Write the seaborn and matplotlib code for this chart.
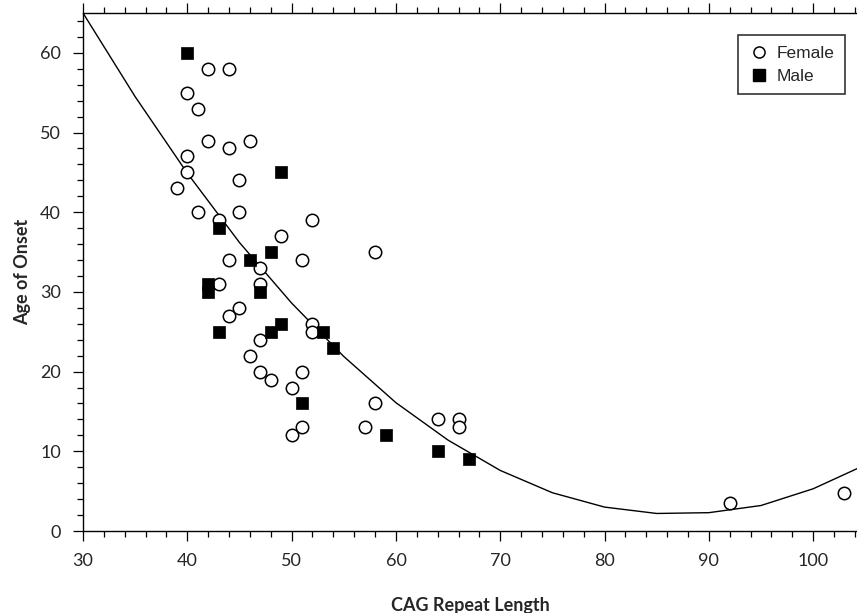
import numpy as np
import pandas as pd
import seaborn as sns
import matplotlib.pyplot as plt
from matplotlib.lines import Line2D
from matplotlib.ticker import MultipleLocator

# values
female_cag = [39, 40, 40, 40, 41, 41, 42, 42, 43, 43, 44, 44, 44, 44, 45, 45, 45,
              46, 46, 47, 47, 47, 47, 48, 49, 50, 50, 51, 51, 51, 52, 52, 52,
              57, 58, 58, 64, 66, 66, 92, 103]
female_onset = [43, 55, 47, 45, 53, 40, 58, 49, 39, 31, 58, 48, 34, 27, 44, 40, 28,
                49, 22, 33, 31, 24, 20, 19, 37, 18, 12, 34, 20, 13, 39, 26, 25,
                13, 35, 16, 14, 14, 13, 3.5, 4.8]

male_cag = [40, 42, 42, 43, 43, 46, 47, 48, 48, 49, 49, 51, 53, 54, 59, 64, 67]
male_onset = [60, 31, 30, 38, 25, 34, 30, 35, 25, 45, 26, 16, 25, 23, 12, 10, 9]

# fitted curve as drawn in the reference
curve_cag = [30, 35, 40, 45, 50, 55, 60, 65, 70, 75, 80, 85, 90, 95, 100, 105]
curve_onset = [65, 54.5, 44.9, 36.2, 28.6, 21.9, 16.1, 11.4, 7.6, 4.8, 3.0, 2.2, 2.3, 3.2, 5.3, 8.3]

df_f = pd.DataFrame({"cag": female_cag, "onset": female_onset})
df_m = pd.DataFrame({"cag": male_cag, "onset": male_onset})
df_c = pd.DataFrame({"cag": curve_cag, "onset": curve_onset})

sns.set_style("white")
plt.rcParams["font.family"] = ["Lato", "DejaVu Sans"]

fig = plt.figure(figsize=(8.57, 6.13), dpi=100)
ax = fig.add_axes([83 / 857, 82 / 613, 774 / 857, 518 / 613])

sns.lineplot(data=df_c, x="cag", y="onset", color="black", linewidth=1.0, ax=ax)
sns.scatterplot(data=df_f, x="cag", y="onset", marker="o", s=80, facecolor="white",
                edgecolor="black", linewidth=1.1, ax=ax, zorder=3)
sns.scatterplot(data=df_m, x="cag", y="onset", marker="s", s=85, color="black",
                edgecolor="black", linewidth=0.5, ax=ax, zorder=3)

ax.set_xlim(30, 104.2)
ax.set_ylim(0, 65)
ax.xaxis.set_major_locator(MultipleLocator(10))
ax.xaxis.set_minor_locator(MultipleLocator(2))
ax.yaxis.set_major_locator(MultipleLocator(10))
ax.yaxis.set_minor_locator(MultipleLocator(2))

ax.tick_params(which="both", direction="out", top=True, bottom=True, left=True,
               labeltop=False, color="black", width=0.9)
ax.tick_params(which="major", length=7, labelsize=13, pad=9)
ax.tick_params(which="minor", length=4)

for side in ["left", "bottom", "top"]:
    ax.spines[side].set_color("black")
    ax.spines[side].set_linewidth(1.0)
ax.spines["right"].set_visible(False)

ax.set_xlabel("CAG Repeat Length", fontsize=13, fontweight="bold", labelpad=20)
ax.set_ylabel("Age of Onset", fontsize=13, fontweight="bold", labelpad=6)

handles = [
    Line2D([], [], marker="o", linestyle="none", markersize=8, markerfacecolor="white",
           markeredgecolor="black", markeredgewidth=1.1, label="Female"),
    Line2D([], [], marker="s", linestyle="none", markersize=8.5, markerfacecolor="black",
           markeredgecolor="black", label="Male"),
]
leg = ax.legend(handles=handles, loc="upper right", bbox_to_anchor=(0.984, 0.957),
                borderaxespad=0, frameon=True, fancybox=False, handletextpad=0.4,
                prop={"family": ["Liberation Sans"], "size": 12.5}, borderpad=0.6,
                labelspacing=0.45, handlelength=1.2)
leg.get_frame().set_edgecolor("black")
leg.get_frame().set_linewidth(1.2)

plt.savefig("out.png", dpi=100)
plt.close()
